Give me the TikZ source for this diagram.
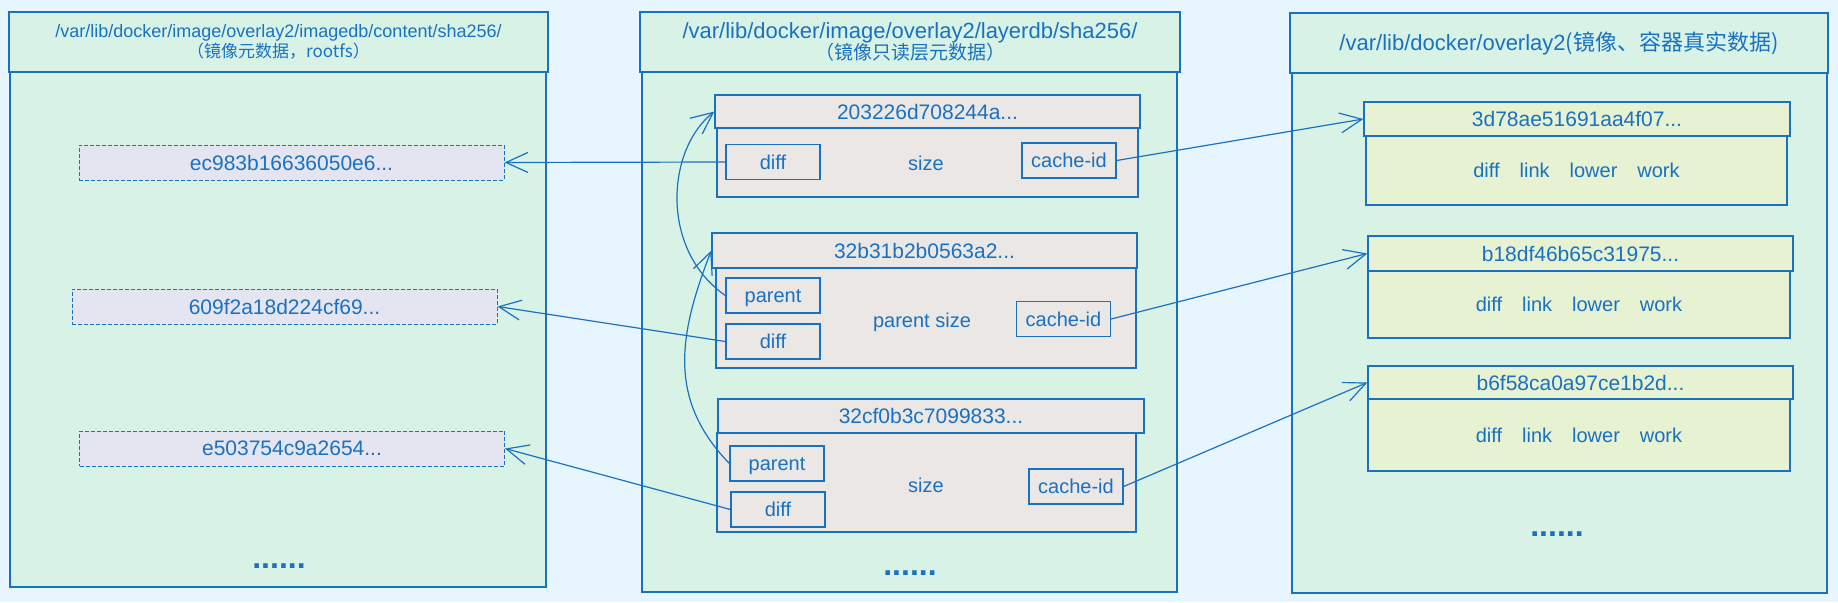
\documentclass[tikz,border=0pt]{standalone}
\usepackage{fontspec}
\setmainfont{Liberation Sans}
\newfontfamily\cjk{Noto Sans CJK SC}
\usetikzlibrary{arrows.meta}
\definecolor{bgblue}{HTML}{E7F5FF}
\definecolor{inkblue}{HTML}{1971C2}
\definecolor{colgreen}{HTML}{D8F3E6}
\definecolor{hashgray}{HTML}{E4E5F0}
\definecolor{layerpink}{HTML}{EBE7E5}
\definecolor{diryellow}{HTML}{E6F2D2}
\begin{document}
\begin{tikzpicture}[x=1pt,y=-1pt,>={Straight Barb[length=22pt,width=20pt]}]
  \tikzstyle{colbox}=[draw=inkblue,line width=1.3pt,fill=colgreen,inner sep=0pt,text=inkblue]
  \tikzstyle{hashbox}=[draw=inkblue,line width=1pt,dash pattern=on 4pt off 2pt,fill=hashgray,inner sep=0pt,text=inkblue,minimum width=425,minimum height=35,font=\fontsize{21}{24}\selectfont]
  \tikzstyle{layerbox}=[draw=inkblue,line width=1.3pt,fill=layerpink,inner sep=0pt,text=inkblue,font=\fontsize{21}{24}\selectfont]
  \tikzstyle{field}=[draw=inkblue,line width=1.3pt,fill=layerpink,inner sep=0pt,text=inkblue,minimum width=94,minimum height=35,text height=16pt,text depth=2pt,font=\fontsize{20}{24}\selectfont]
  \tikzstyle{dirbox}=[draw=inkblue,line width=1.3pt,fill=diryellow,inner sep=0pt,text=inkblue,font=\fontsize{21}{24}\selectfont]
  \tikzstyle{word}=[text=inkblue,inner sep=0pt,text height=16pt,text depth=2pt,font=\fontsize{20}{24}\selectfont]
  \tikzstyle{etc}=[text=inkblue,inner sep=0pt,font=\bfseries\fontsize{32}{36}\selectfont]
  \tikzstyle{link}=[draw=inkblue,line width=1.2pt,->]

  \path[fill=bgblue,use as bounding box] (0,0) rectangle (1838,602);

  % imagedb
  \node[colbox,minimum width=536,minimum height=515] (lbody) at (278,329.5) {};
  \node[colbox,minimum width=539,minimum height=60,align=center] (lhead) at (278.5,42)
    {\fontsize{18}{20}\selectfont /var/lib/docker/image/overlay2/imagedb/content/sha256/\\
     \cjk\fontsize{17}{20}\selectfont （镜像元数据，rootfs）};
  \node[hashbox] (e1) at (291.5,162.5) {ec983b16636050e6...};
  \node[hashbox] (e2) at (284.5,306.5) {609f2a18d224cf69...};
  \node[hashbox] (e3) at (292,448.5) {e503754c9a2654...};
  \node[etc] (ldots) at (279,566) {......};

  % layerdb
  \node[colbox,minimum width=535,minimum height=520] (mbody) at (909.5,332) {};
  \node[colbox,minimum width=540,minimum height=60,align=center] (mhead) at (910,42)
    {\fontsize{22}{24}\selectfont /var/lib/docker/image/overlay2/layerdb/sha256/\\
     \cjk\fontsize{19}{24}\selectfont （镜像只读层元数据）};

  \node[layerbox,minimum width=421,minimum height=69] (b1) at (927.5,162.5) {};
  \node[layerbox,minimum width=425,minimum height=33] (h1) at (927.5,111.5) {203226d708244a...};
  \node[field] (d1) at (773,162) {diff};
  \node[word] (s1) at (926,163) {size};
  \node[field] (c1) at (1069,160.5) {cache-id};

  \node[layerbox,minimum width=420,minimum height=100] (b2) at (926,318) {};
  \node[layerbox,minimum width=425,minimum height=35] (h2) at (924.5,250.5) {32b31b2b0563a2...};
  \node[field] (p2) at (773,295.5) {parent};
  \node[field] (d2) at (773,341.5) {diff};
  \node[word] (s2) at (922,320) {parent size};
  \node[field] (c2) at (1063.5,319) {cache-id};

  \node[layerbox,minimum width=419,minimum height=99] (b3) at (926.5,482.5) {};
  \node[layerbox,minimum width=426,minimum height=34] (h3) at (931,416) {32cf0b3c7099833...};
  \node[field] (p3) at (777,463.5) {parent};
  \node[field] (d3) at (778,509.5) {diff};
  \node[word] (s3) at (926,485) {size};
  \node[field] (c3) at (1076,486.5) {cache-id};
  \node[etc] (mdots) at (910,573) {......};

  % overlay2
  \node[colbox,minimum width=535,minimum height=520] (rbody) at (1559.5,333) {};
  \node[colbox,minimum width=538,minimum height=60] (rhead) at (1559,43)
    {\fontsize{22}{24}\selectfont /var/lib/docker/overlay2{\cjk (镜像、容器真实数据)}};

  \node[dirbox,minimum width=421,minimum height=69,font=\fontsize{20}{24}\selectfont] (o1) at (1576.5,170.5) {diff\quad link\quad lower\quad work};
  \node[dirbox,minimum width=426,minimum height=34] (g1) at (1577,119) {3d78ae51691aa4f07...};
  \node[dirbox,minimum width=422,minimum height=67,font=\fontsize{20}{24}\selectfont] (o2) at (1579,304.5) {diff\quad link\quad lower\quad work};
  \node[dirbox,minimum width=425,minimum height=35] (g2) at (1580.5,253.5) {b18df46b65c31975...};
  \node[dirbox,minimum width=422,minimum height=72,font=\fontsize{20}{24}\selectfont] (o3) at (1579,435) {diff\quad link\quad lower\quad work};
  \node[dirbox,minimum width=425,minimum height=33] (g3) at (1580.5,382.5) {b6f58ca0a97ce1b2d...};
  \node[etc] (rdots) at (1557,534) {......};

  % links
  \draw[link] (d1.west) -- (e1.east);
  \draw[link] (d2.west) -- (e2.east);
  \draw[link] (d3.west) -- (e3.east);
  \draw[link] (c1.east) -- (g1.west);
  \draw[link] (c2.east) -- (g2.west);
  \draw[link] (c3.east) -- (g3.west);
  \draw[link] (p2.west) .. controls (660,250) and (666,150) .. (h1.west);
  \draw[link] (p3.west) .. controls (668,400) and (678,336) .. (h2.west);
\end{tikzpicture}
\end{document}
